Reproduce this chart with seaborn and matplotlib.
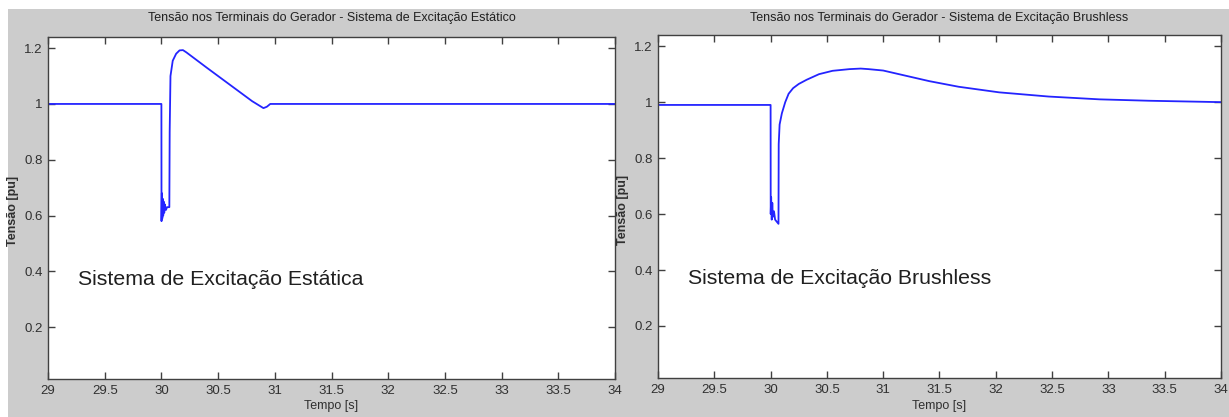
import matplotlib
matplotlib.use("Agg")
import matplotlib.pyplot as plt
import matplotlib.patches as mpatches
import seaborn as sns
import pandas as pd

# ---- data ----
t_est = [29.0, 30.0, 30.001, 30.004, 30.008, 30.012, 30.016, 30.02, 30.025, 30.03,
         30.04, 30.05, 30.07, 30.073, 30.08, 30.1, 30.13, 30.16, 30.19, 30.22,
         30.4, 30.6, 30.8, 30.9, 30.93, 30.96, 34.0]
v_est = [1.0, 1.0, 0.58, 0.68, 0.59, 0.66, 0.60, 0.65, 0.61, 0.64,
         0.62, 0.63, 0.63, 0.90, 1.10, 1.155, 1.18, 1.192, 1.193, 1.185,
         1.13, 1.07, 1.01, 0.985, 0.99, 1.0, 1.0]

t_bl = [29.0, 30.0, 30.001, 30.005, 30.01, 30.015, 30.02, 30.03, 30.04, 30.05,
        30.07, 30.072, 30.08, 30.1, 30.13, 30.16, 30.2, 30.25, 30.32, 30.43,
        30.55, 30.7, 30.8, 30.87, 31.0, 31.14, 31.41, 31.67, 32.03, 32.47,
        32.92, 33.36, 34.0]
v_bl = [0.99, 0.99, 0.60, 0.66, 0.58, 0.64, 0.59, 0.61, 0.58, 0.575,
        0.565, 0.85, 0.92, 0.96, 1.0, 1.03, 1.05, 1.065, 1.08, 1.10,
        1.112, 1.118, 1.12, 1.118, 1.113, 1.10, 1.075, 1.055, 1.035, 1.02,
        1.01, 1.005, 1.0]

x_ticks = [29, 29.5, 30, 30.5, 31, 31.5, 32, 32.5, 33, 33.5, 34]
x_ticklabels = ["29", "29.5", "30", "30.5", "31", "31.5", "32", "32.5", "33", "33.5", "34"]
y_ticks = [0.2, 0.4, 0.6, 0.8, 1.0, 1.2]
y_ticklabels = ["0.2", "0.4", "0.6", "0.8", "1", "1.2"]

titles = ["Tensão nos Terminais do Gerador - Sistema de Excitação Estático",
          "Tensão nos Terminais do Gerador - Sistema de Excitação Brushless"]
notes = ["Sistema de Excitação Estática", "Sistema de Excitação Brushless"]
xlabel = "Tempo [s]"
ylabel = "Tensão [pu]"

# ---- style ----
sns.set_style("ticks")
plt.rcParams["font.family"] = ["Liberation Sans", "DejaVu Sans"]

W, H = 1229, 417
fig = plt.figure(figsize=(W / 100, H / 100), dpi=100, facecolor="white")
fig.patches.append(mpatches.Rectangle((8 / W, 0), 1, 1 - 9 / H, transform=fig.transFigure,
                                      facecolor="#cccccc", edgecolor="none", zorder=-10))

boxes = [(48, 615, 37, 379), (658, 1221, 35, 378)]
ylabel_x = [13, 623]
series = [(t_est, v_est), (t_bl, v_bl)]

for i, ((x0, x1, y0, y1), (tt, vv)) in enumerate(zip(boxes, series)):
    ax = fig.add_axes([x0 / W, 1 - y1 / H, (x1 - x0) / W, (y1 - y0) / H])
    ax.set_zorder(5)
    ax.set_facecolor("white")
    df = pd.DataFrame({"t": tt, "v": vv})
    sns.lineplot(data=df, x="t", y="v", ax=ax, color="#2424ff", linewidth=1.3,
                 estimator=None, sort=False)
    ax.set_xlim(29, 34)
    ax.set_ylim(0.014, 1.24)
    ax.set_xticks(x_ticks)
    ax.set_xticklabels(x_ticklabels)
    ax.set_yticks(y_ticks)
    ax.set_yticklabels(y_ticklabels)
    ax.tick_params(direction="in", length=5, width=1, colors="#404040",
                   labelcolor="#303030", labelsize=9.5, top=True, right=True, pad=4)
    for s in ax.spines.values():
        s.set_color("#404040")
        s.set_linewidth(1.0)
    ax.set_xlabel(xlabel, fontsize=9, color="#303030")
    ax.xaxis.label.set_va("center")
    ax.xaxis.set_label_coords(0.5, -(406 - y1) / (y1 - y0))
    ax.set_ylabel(ylabel, fontsize=9, color="#303030", fontweight="bold")
    ax.yaxis.label.set_va("center")
    ax.yaxis.set_label_coords(-(x0 - ylabel_x[i]) / (x1 - x0), 0.49)
    ax.text(0.5, 1 + (y0 - 18) / (y1 - y0), titles[i], transform=ax.transAxes,
            ha="center", va="center", fontsize=9, color="#202020")
    ax.text(0.053, 0.29, notes[i], transform=ax.transAxes, ha="left", va="center",
            fontsize=15.3, color="#202020")

fig.savefig("out.png", dpi=100, facecolor=fig.get_facecolor())
